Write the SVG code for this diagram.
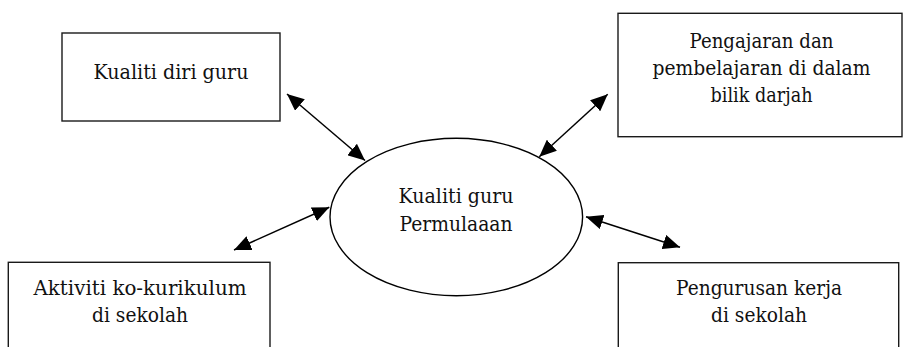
<svg xmlns="http://www.w3.org/2000/svg" width="903" height="347" viewBox="0 0 903 347">
<style>
.box{fill:#fff;stroke:#1a1a1a;stroke-width:1.4}
.ell{fill:#fff;stroke:#000;stroke-width:1.4}
.t{font-family:"DejaVu Serif",serif;font-size:21px;fill:#111;text-anchor:middle}
.c{stroke:#000;stroke-width:1.5;fill:none;marker-start:url(#ah);marker-end:url(#ah)}
</style>
<defs>
<marker id="ah" markerUnits="userSpaceOnUse" markerWidth="18" markerHeight="15" refX="17" refY="7.5" orient="auto-start-reverse" viewBox="0 0 18 15">
<path d="M0,0 L17,7.5 L0,15 z" fill="#000"/>
</marker>
</defs>
<rect width="903" height="347" fill="#fff"/>
<g id="connectors">
<line class="c" x1="287" y1="94" x2="365" y2="160.5"/>
<line class="c" x1="607.7" y1="94.3" x2="539.3" y2="156.7"/>
<line class="c" x1="234" y1="250" x2="329.3" y2="207.3"/>
<line class="c" x1="586" y1="216.7" x2="680" y2="247.3"/>
</g>
<g id="node-center">
<ellipse class="ell" cx="456.3" cy="217" rx="126.3" ry="78.7"/>
<text class="t" x="456" y="202.7" textLength="115" lengthAdjust="spacingAndGlyphs">Kualiti guru</text>
<text class="t" x="456" y="230.5" textLength="113" lengthAdjust="spacingAndGlyphs">Permulaaan</text>
</g>
<g id="node-diri">
<rect class="box" x="62" y="33" width="218" height="88"/>
<text class="t" x="171" y="79" textLength="155" lengthAdjust="spacingAndGlyphs">Kualiti diri guru</text>
</g>
<g id="node-pdp">
<rect class="box" x="618" y="13.3" width="284" height="123.4"/>
<text class="t" x="761.5" y="47.5" textLength="144" lengthAdjust="spacingAndGlyphs">Pengajaran dan</text>
<text class="t" x="761.5" y="74.8" textLength="218" lengthAdjust="spacingAndGlyphs">pembelajaran di dalam</text>
<text class="t" x="761.5" y="101.5" textLength="102" lengthAdjust="spacingAndGlyphs">bilik darjah</text>
</g>
<g id="node-kokurikulum">
<rect class="box" x="8.3" y="262.3" width="261.7" height="100"/>
<text class="t" x="140" y="295" textLength="213" lengthAdjust="spacingAndGlyphs">Aktiviti ko-kurikulum</text>
<text class="t" x="140" y="321.7" textLength="96" lengthAdjust="spacingAndGlyphs">di sekolah</text>
</g>
<g id="node-pengurusan">
<rect class="box" x="618.3" y="262.7" width="280.4" height="100"/>
<text class="t" x="759" y="295" textLength="166" lengthAdjust="spacingAndGlyphs">Pengurusan kerja</text>
<text class="t" x="759" y="321.7" textLength="96" lengthAdjust="spacingAndGlyphs">di sekolah</text>
</g>
</svg>
